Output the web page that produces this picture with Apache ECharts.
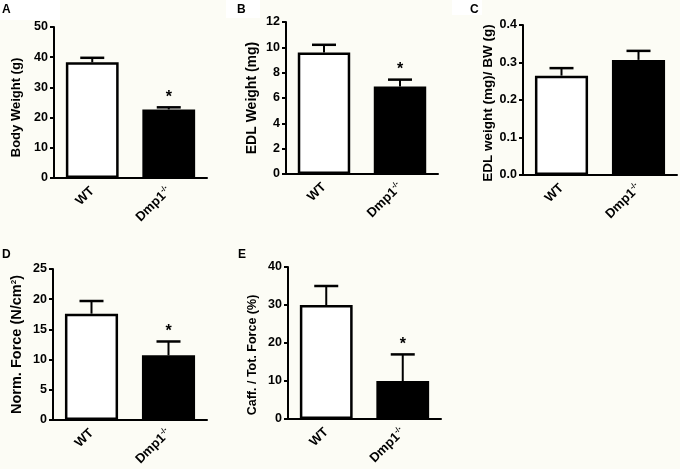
<!DOCTYPE html>
<html><head><meta charset="utf-8">
<script src="https://cdn.jsdelivr.net/npm/echarts@6/dist/echarts.min.js"></script>
<style>html,body{margin:0;padding:0;background:#fcfcf5;}#c{width:680px;height:469px;}</style>
</head><body><div id="c"></div>
<script>
// ---- data ----
const categories = ['WT', 'Dmp1-/-'];
const barColors = ['#ffffff', '#000000'];

const bodyWeightMean = [38.3, 22.7];
const bodyWeightSem  = [1.5, 0.7];
const bodyWeightSig  = [0, 1];
const bodyWeightTicks = [0, 50, 10];

const edlWeightMean = [9.6, 6.9];
const edlWeightSem  = [0.6, 0.55];
const edlWeightSig  = [0, 1];
const edlWeightTicks = [0, 12, 2];

const edlPerBwMean = [0.265, 0.307];
const edlPerBwSem  = [0.02, 0.024];
const edlPerBwSig  = [0, 0];
const edlPerBwTicks = [0, 0.4, 0.1];

const normForceMean = [17.6, 10.7];
const normForceSem  = [2.1, 2.3];
const normForceSig  = [0, 1];
const normForceTicks = [0, 25, 5];

const caffRatioMean = [30, 10];
const caffRatioSem  = [5, 7];
const caffRatioSig  = [0, 1];
const caffRatioTicks = [0, 40, 10];

const panelLetters = ['A', 'B', 'C', 'D', 'E'];
const yTitles = ['Body Weight (g)', 'EDL Weight (mg)', 'EDL weight (mg)/ BW (g)', 'Norm. Force (N/cm{sup|2})', 'Caff. / Tot. Force (%)'];

// ---- layout ----
const FONT = '"Liberation Sans", Arial, sans-serif';
const grids = [
  {left: 54, top: 27, width: 153, height: 151},
  {left: 286, top: 22, width: 152, height: 152},
  {left: 523, top: 25, width: 154, height: 150},
  {left: 53, top: 269, width: 154, height: 151},
  {left: 288, top: 267, width: 153, height: 152}
];
const panels = [
  {mean: bodyWeightMean, sem: bodyWeightSem, sig: bodyWeightSig, ticks: bodyWeightTicks, dec: 0},
  {mean: edlWeightMean, sem: edlWeightSem, sig: edlWeightSig, ticks: edlWeightTicks, dec: 0},
  {mean: edlPerBwMean, sem: edlPerBwSem, sig: edlPerBwSig, ticks: edlPerBwTicks, dec: 1},
  {mean: normForceMean, sem: normForceSem, sig: normForceSig, ticks: normForceTicks, dec: 0},
  {mean: caffRatioMean, sem: caffRatioSem, sig: caffRatioSig, ticks: caffRatioTicks, dec: 0}
];
const letterPos = [[2, 4], [237, 4], [470, 4], [2, 249], [238, 249]];
const nameGaps = [31, 26.5, 27, 28.5, 28.5];
const nameSizes = [13, 14, 13.5, 14.5, 12.5];
const nameShift = [5, 0, 3, 0, 12];

const xAxes = [], yAxes = [], series = [];
panels.forEach(function (p, i) {
  xAxes.push({
    type: 'category', gridIndex: i, data: categories,
    axisLine: {lineStyle: {color: '#000', width: 2}},
    axisTick: {alignWithLabel: true, length: 4, lineStyle: {width: 2, color: '#000'}},
    axisLabel: {
      rotate: 45, margin: 11, color: '#000', fontFamily: FONT, fontWeight: 'bold', fontSize: 13,
      formatter: function (v) { return v === 'Dmp1-/-' ? 'Dmp1{sup|-/-}' : v; },
      rich: {sup: {fontSize: 7.5, fontWeight: 'bold', fontFamily: FONT, color: '#000', verticalAlign: 'top', padding: [0, 0, 7, 0]}}
    }
  });
  yAxes.push({
    type: 'value', gridIndex: i, min: p.ticks[0], max: p.ticks[1], interval: p.ticks[2],
    splitLine: {show: false},
    axisLine: {show: true, lineStyle: {color: '#000', width: 2}},
    axisTick: {show: true, length: 4, lineStyle: {width: 2, color: '#000'}},
    axisLabel: {margin: 6, color: '#000', fontFamily: FONT, fontWeight: 'bold', fontSize: 12.5,
      formatter: function (v) { return v.toFixed(p.dec); }},
    name: yTitles[i], nameLocation: 'middle', nameGap: nameGaps[i],
    nameTextStyle: {color: '#000', fontFamily: FONT, fontWeight: 'bold', fontSize: nameSizes[i],
      padding: [0, nameShift[i] * 2, 0, 0],
      rich: {sup: {fontSize: 8, fontWeight: 'bold', fontFamily: FONT, color: '#000', verticalAlign: 'top', padding: [0, 0, 6, 0]}}}
  });
  series.push({
    type: 'bar', xAxisIndex: i, yAxisIndex: i, barWidth: '69%', silent: true,
    data: p.mean.map(function (v, k) {
      return {value: v, itemStyle: {color: barColors[k], borderColor: '#000', borderWidth: 2.5}};
    })
  });
  series.push({
    type: 'custom', xAxisIndex: i, yAxisIndex: i, silent: true, z: 5,
    encode: {x: 0, y: 1},
    data: p.mean.map(function (v, k) { return [k, v, p.sem[k], p.sig[k]]; }),
    renderItem: function (params, api) {
      const x = api.value(0), m = api.value(1), e = api.value(2);
      const p0 = api.coord([x, m]), p1 = api.coord([x, m + e]);
      const ch = [
        {type: 'line', shape: {x1: p0[0], y1: p0[1], x2: p1[0], y2: p1[1]}, style: {stroke: '#000', lineWidth: 2}},
        {type: 'line', shape: {x1: p1[0] - 12, y1: p1[1], x2: p1[0] + 12, y2: p1[1]}, style: {stroke: '#000', lineWidth: 2.5}}
      ];
      if (api.value(3)) {
        ch.push({type: 'text', style: {text: '*', x: p1[0], y: p1[1] - 10, align: 'center', verticalAlign: 'middle',
          font: 'bold 16px ' + FONT, fill: '#000'}});
      }
      return {type: 'group', children: ch};
    }
  });
});

const graphics = [
  {type: 'rect', shape: {x: 0, y: 0, width: 60, height: 20}, style: {fill: '#ffffff'}, silent: true},
  {type: 'rect', shape: {x: 226, y: 0, width: 34, height: 18}, style: {fill: '#ffffff'}, silent: true},
  {type: 'rect', shape: {x: 452, y: 0, width: 30, height: 15}, style: {fill: '#ffffff'}, silent: true}
];
panelLetters.forEach(function (t, i) {
  graphics.push({type: 'text', left: letterPos[i][0], top: letterPos[i][1],
    style: {text: t, font: 'bold 12px ' + FONT, fill: '#000'}});
});

const chart = echarts.init(document.getElementById('c'), null, {renderer: 'canvas'});
chart.setOption({
  backgroundColor: '#fcfcf5',
  animation: false,
  grid: grids.map(function (g) { return Object.assign({containLabel: false}, g); }),
  xAxis: xAxes, yAxis: yAxes, series: series, graphic: graphics
});
</script></body></html>
